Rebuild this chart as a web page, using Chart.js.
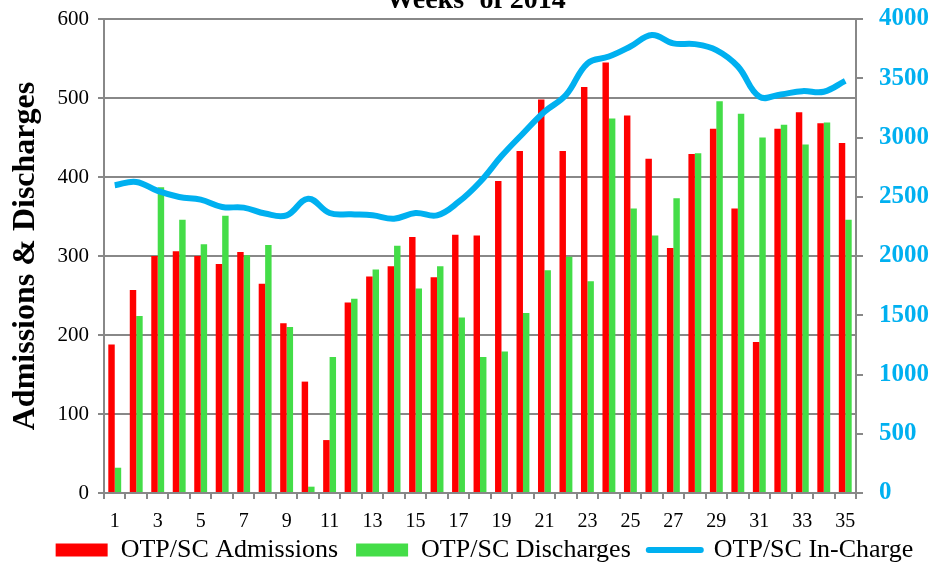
<!DOCTYPE html>
<html>
<head>
<meta charset="utf-8">
<script src="https://cdn.jsdelivr.net/npm/chart.js@4"></script>
<style>
  html, body { margin: 0; padding: 0; background: #fff; }
  #wrap { width: 933px; height: 564px; }
</style>
</head>
<body>
<div id="wrap"><canvas id="chart" width="933" height="564"></canvas></div>
<script>
// week numbers 1..35 of 2014
const weeks = ["1","2","3","4","5","6","7","8","9","10","11","12","13","14","15","16","17","18",
  "19","20","21","22","23","24","25","26","27","28","29","30","31","32","33","34","35"];

const admissions = [188, 257, 300, 306, 300, 290, 305, 265, 215, 141, 67, 241, 274, 287, 324, 273,
  327, 326, 395, 433, 498, 433, 514, 545, 478, 423, 310, 429, 461, 360, 191, 461, 482, 468, 443];

const discharges = [32, 224, 387, 346, 315, 351, 301, 314, 210, 8, 172, 246, 283, 313, 259, 287,
  222, 172, 179, 228, 282, 299, 268, 474, 360, 326, 373, 430, 496, 480, 450, 466, 441, 469, 346];

const inCharge = [2597, 2625, 2549, 2498, 2476, 2414, 2408, 2358, 2343, 2484, 2363, 2352, 2343,
  2315, 2363, 2343, 2456, 2625, 2843, 3034, 3217, 3358, 3625, 3683, 3768, 3865, 3794, 3788,
  3738, 3600, 3345, 3363, 3391, 3386, 3478];

const leftTicks = [0, 100, 200, 300, 400, 500, 600];
const rightTicks = [0, 500, 1000, 1500, 2000, 2500, 3000, 3500, 4000];

const SERIF = "'Liberation Serif', 'Times New Roman', serif";
const GRID = "#888888";
const CYAN = "#00B0F0";

// title sits half cut off above the plot, so draw it by hand
const topTitle = {
  id: "topTitle",
  afterDraw(chart) {
    const ctx = chart.ctx;
    ctx.save();
    ctx.font = "bold 28px " + SERIF;
    ctx.fillStyle = "#000";
    ctx.textAlign = "center";
    ctx.textBaseline = "alphabetic";
    ctx.fillText("Weeks\u00B9 of 2014", 476, 8);
    ctx.restore();
  }
};

// legend: keep it short in the layout, then move it where the original has it
const legendPlace = {
  id: "legendPlace",
  beforeLayout(chart) {
    const lg = chart.legend;
    if (lg && !lg._shortFit) {
      const fit = lg.fit;
      lg.fit = function () { fit.call(this); this.height = 31; };
      lg._shortFit = true;
    }
  },
  afterLayout(chart) {
    const lg = chart.legend;
    lg.top = 550 - 18 - 13;
    lg.bottom = chart.height;
    lg.height = lg.bottom - lg.top;
    lg.left += 18; lg.right += 18;
  }
};

// drop the extra room Chart.js keeps for half of the end tick labels
const noEdgePad = s => {
  s.paddingTop = 0; s.paddingBottom = 0;
  s.paddingLeft = 0; s.paddingRight = 0;
};

new Chart(document.getElementById("chart"), {
  type: "bar",
  data: {
    labels: weeks,
    datasets: [
      {
        type: "line",
        label: "OTP/SC In-Charge",
        data: inCharge,
        yAxisID: "y2",
        borderColor: CYAN,
        backgroundColor: CYAN,
        borderWidth: 6,
        pointRadius: 0,
        tension: 0.4,
        order: 0
      },
      {
        label: "OTP/SC Admissions",
        data: admissions,
        yAxisID: "y",
        backgroundColor: "#FF0000",
        categoryPercentage: 0.6,
        barPercentage: 1.0,
        order: 1
      },
      {
        label: "OTP/SC Discharges",
        data: discharges,
        yAxisID: "y",
        backgroundColor: "#44DD48",
        categoryPercentage: 0.6,
        barPercentage: 1.0,
        order: 1
      }
    ]
  },
  options: {
    responsive: false,
    animation: false,
    layout: { padding: { top: 19, right: 0, left: 0, bottom: 0 } },
    plugins: {
      tooltip: { enabled: false },
      legend: {
        position: "bottom",
        labels: {
          font: { family: SERIF, size: 26 },
          color: "#000",
          usePointStyle: true,
          pointStyleWidth: 52,
          boxHeight: 13,
          padding: 18,
          sort: (a, b) => {
            const order = ["OTP/SC Admissions", "OTP/SC Discharges", "OTP/SC In-Charge"];
            return order.indexOf(a.text) - order.indexOf(b.text);
          },
          generateLabels(chart) {
            const items = Chart.defaults.plugins.legend.labels.generateLabels(chart);
            items.forEach(it => {
              if (it.text === "OTP/SC In-Charge") {
                it.pointStyle = "line";
                it.strokeStyle = CYAN;
                it.lineWidth = 6;
                it.lineCap = "round";
              } else {
                it.pointStyle = "rect";
                it.lineWidth = 0;
              }
            });
            return items;
          }
        }
      }
    },
    scales: {
      x: {
        offset: true,
        grid: {
          offset: true,
          drawOnChartArea: false,
          drawTicks: true,
          tickLength: 6,
          color: GRID,
          lineWidth: 2
        },
        border: { color: GRID, width: 2 },
        ticks: {
          autoSkip: false,
          maxRotation: 0,
          padding: 11,
          color: "#000",
          font: { family: SERIF, size: 20 },
          callback: (v, i) => (i % 2 === 0 ? weeks[i] : "")
        },
        afterFit: s => { noEdgePad(s); s.height = 40; }
      },
      y: {
        position: "left",
        min: leftTicks[0],
        max: leftTicks[leftTicks.length - 1],
        afterBuildTicks: s => { s.ticks = leftTicks.map(v => ({ value: v })); },
        grid: { color: GRID, lineWidth: 2, tickLength: 6 },
        border: { color: GRID, width: 2 },
        ticks: {
          padding: 9,
          color: "#000",
          font: { family: SERIF, size: 21 }
        },
        title: {
          display: true,
          text: "Admissions & Discharges",
          color: "#000",
          font: { family: SERIF, size: 32, weight: "bold" },
          padding: { top: 7, bottom: 0 }
        },
        afterFit: s => { noEdgePad(s); s.width = 104; }
      },
      y2: {
        position: "right",
        min: rightTicks[0],
        max: rightTicks[rightTicks.length - 1],
        afterBuildTicks: s => { s.ticks = rightTicks.map(v => ({ value: v })); },
        grid: { drawOnChartArea: false, color: GRID, lineWidth: 2, tickLength: 7 },
        border: { color: GRID, width: 2 },
        ticks: {
          padding: 16,
          color: CYAN,
          font: { family: SERIF, size: 25, weight: "bold" },
          callback: v => String(v)
        },
        afterFit: s => { noEdgePad(s); s.width = 77; }
      }
    }
  },
  plugins: [topTitle, legendPlace]
});
</script>
</body>
</html>
